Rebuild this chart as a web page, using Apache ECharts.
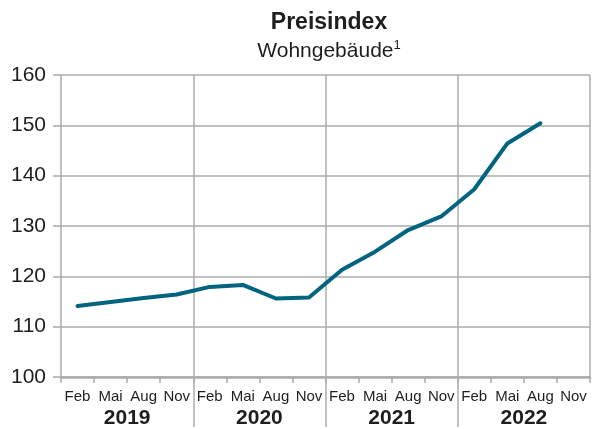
<!DOCTYPE html>
<html>
<head>
<meta charset="utf-8">
<script src="https://cdn.jsdelivr.net/npm/echarts@6/dist/echarts.min.js"></script>
<style>
  html, body { margin: 0; padding: 0; background: #fff; }
  #chart_preisindex { width: 592px; height: 429px; }
</style>
</head>
<body>
<div id="chart_preisindex"></div>
<script>
var months = ['Feb', 'Mai', 'Aug', 'Nov', 'Feb', 'Mai', 'Aug', 'Nov',
              'Feb', 'Mai', 'Aug', 'Nov', 'Feb', 'Mai', 'Aug', 'Nov'];
var years = ['2019', '2020', '2021', '2022'];
var preisindex = [114.1, 114.9, 115.7, 116.4, 117.9, 118.3, 115.6, 115.8,
                  121.3, 124.9, 129.2, 131.9, 137.3, 146.4, 150.4, null];

var myChart = echarts.init(document.getElementById('chart_preisindex'));
var gridColor = '#ababab';
var textColor = '#1e1e1e';
var font = 'Liberation Sans, Arial, sans-serif';

var option = {
  animation: false,
  title: {
    text: 'Preisindex',
    subtext: '{a|Wohngebäude}{s|1}',
    left: 324,
    textAlign: 'center',
    top: 6,
    itemGap: 5,
    textStyle: {
      fontFamily: font,
      fontSize: 23,
      fontWeight: 'bold',
      color: textColor
    },
    subtextStyle: {
      rich: {
        a: { fontFamily: font, fontSize: 21, color: textColor, lineHeight: 24 },
        s: { fontFamily: font, fontSize: 13, color: textColor, lineHeight: 24, verticalAlign: 'top', padding: [0, 0, 7, 0] }
      }
    }
  },
  grid: [
    { left: 61, right: 2, top: 75, height: 302 },
    { left: 61, right: 2, top: 377, height: 52 }
  ],
  xAxis: [
    {
      type: 'category',
      gridIndex: 0,
      data: months,
      boundaryGap: true,
      axisLine: { lineStyle: { color: gridColor, width: 2.5 } },
      axisTick: { show: true, length: 6, lineStyle: { color: gridColor, width: 1.5 } },
      axisLabel: { margin: 12, fontFamily: font, fontSize: 15, color: textColor, interval: 0 },
      splitLine: {
        show: true,
        interval: function (index) { return index % 4 === 0 && index > 0; },
        lineStyle: { color: gridColor, width: 1.5 }
      }
    },
    {
      type: 'category',
      gridIndex: 1,
      data: years,
      boundaryGap: true,
      position: 'bottom',
      axisLine: { show: false },
      axisTick: { show: false },
      axisLabel: {
        inside: true,
        margin: -2,
        fontFamily: font,
        fontSize: 21,
        fontWeight: 'bold',
        color: textColor
      },
      splitLine: {
        show: true,
        showMinLine: false,
        showMaxLine: false,
        lineStyle: { color: gridColor, width: 1.5 }
      }
    }
  ],
  yAxis: [
    {
      type: 'value',
      gridIndex: 0,
      min: 100,
      max: 160,
      interval: 10,
      axisLine: { show: true, lineStyle: { color: gridColor, width: 1.5 } },
      axisTick: { show: true, length: 8, lineStyle: { color: gridColor, width: 1.5 } },
      axisLabel: { margin: 15, fontFamily: font, fontSize: 21, color: textColor },
      splitLine: { lineStyle: { color: gridColor, width: 1.5 } }
    },
    {
      type: 'value',
      gridIndex: 1,
      show: false
    }
  ],
  series: [
    {
      name: 'Preisindex',
      type: 'line',
      xAxisIndex: 0,
      yAxisIndex: 0,
      data: preisindex,
      showSymbol: false,
      lineStyle: { color: '#00637f', width: 4, cap: 'round', join: 'round' }
    }
  ]
};

myChart.setOption(option);
window.addEventListener('resize', function () {
  myChart.resize();
});
</script>
</body>
</html>
